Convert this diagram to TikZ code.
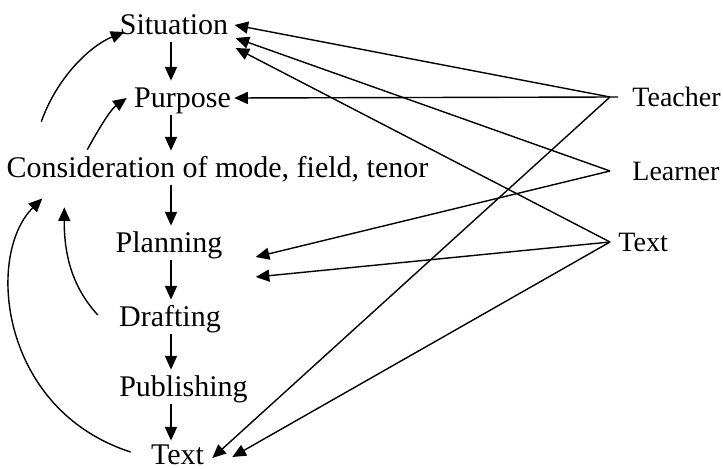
\documentclass[tikz,border=0pt]{standalone}
\usepackage{fontspec}
\setmainfont{Liberation Serif}
\usetikzlibrary{arrows.meta}

\begin{document}
\begin{tikzpicture}[x=0.5pt, y=-0.5pt,
	lbl/.style={font=\fontsize{15}{18}\selectfont, inner xsep=3pt, inner ysep=3.5pt, text height=10pt, text depth=0pt, anchor=base},
	side/.style={font=\fontsize{14}{17}\selectfont, inner ysep=0pt, text height=10pt, text depth=0pt, anchor=west},
	arr/.style={black, line width=0.7pt, -{Triangle[length=6.8pt, width=6pt]}}]
	  \useasboundingbox (0,0) rectangle (723,469);
	  \node[lbl] (sit) at (174,35) {Situation};
	  \node[lbl] (pur) at (182.5,108) {Purpose};
	  \node[lbl] (cons) at (217.5,178) {Consideration of mode, field, tenor};
	  \node[lbl] (plan) at (169,253) {Planning};
	  \node[lbl] (draft) at (170,327) {Drafting};
	  \node[lbl] (pub) at (183.5,397) {Publishing};
	  \node[lbl, inner ysep=1pt] (txt) at (177.5,465) {Text};
	  \node[side, inner xsep=11pt] (teacher) at (610,97) {Teacher};
	  \node[side, inner xsep=11pt] (learner) at (610,171) {Learner};
	  \node[side, inner xsep=4pt] (rtext) at (610,242) {Text};
	  \coordinate (ax) at (171,0);
	  %steps
	  \draw[arr] (sit.south -| ax) -- (pur.north -| ax);
	  \draw[arr] (pur.south -| ax) -- (cons.north -| ax);
	  \draw[arr] (cons.south -| ax) -- (plan.north -| ax);
	  \draw[arr] (plan.south -| ax) -- (draft.north -| ax);
	  \draw[arr] (draft.south -| ax) -- (pub.north -| ax);
	  \draw[arr, shorten >=1pt] (pub.south -| ax) -- (txt.north -| ax);
	  %feedback
	  \draw[arr] ([shift={(41,-29)}]cons.north west) .. controls (58,75) and (92,45) .. ([shift={(11,7)}]sit.west);
	  \draw[arr] ([shift={(87,-1)}]cons.north west) .. controls (97,132) and (110,110) .. ([shift={(-1,0)}]pur.west);
	  \draw[arr] ([shift={(-15,-2)}]draft.west) .. controls (75,290) and (64,260) .. ([shift={(64,22)}]cons.south west);
	  \draw[arr] ([shift={(-14,-3)}]txt.west) .. controls (0,410) and (-15,255) .. ([shift={(42,13)}]cons.south west);
	  %sources
	  \draw[arr] (teacher.west) -- (sit.east);
	  \draw[arr] ([shift={(8,0)}]teacher.west) -- ([shift={(-3,0)}]pur.east);
	  \draw[arr] (teacher.west) -- ([shift={(2,3)}]txt.east);
	  \draw[arr] (learner.west) -- ([shift={(1,13)}]sit.east);
	  \draw[arr] (learner.west) -- ([shift={(27,14)}]plan.east);
	  \draw[arr] (rtext.west) -- ([shift={(1,23)}]sit.east);
	  \draw[arr] (rtext.west) -- ([shift={(27,34)}]plan.east);
	  \draw[arr] (rtext.west) -- ([shift={(22,2)}]txt.east);
	\end{tikzpicture}
\end{document}
